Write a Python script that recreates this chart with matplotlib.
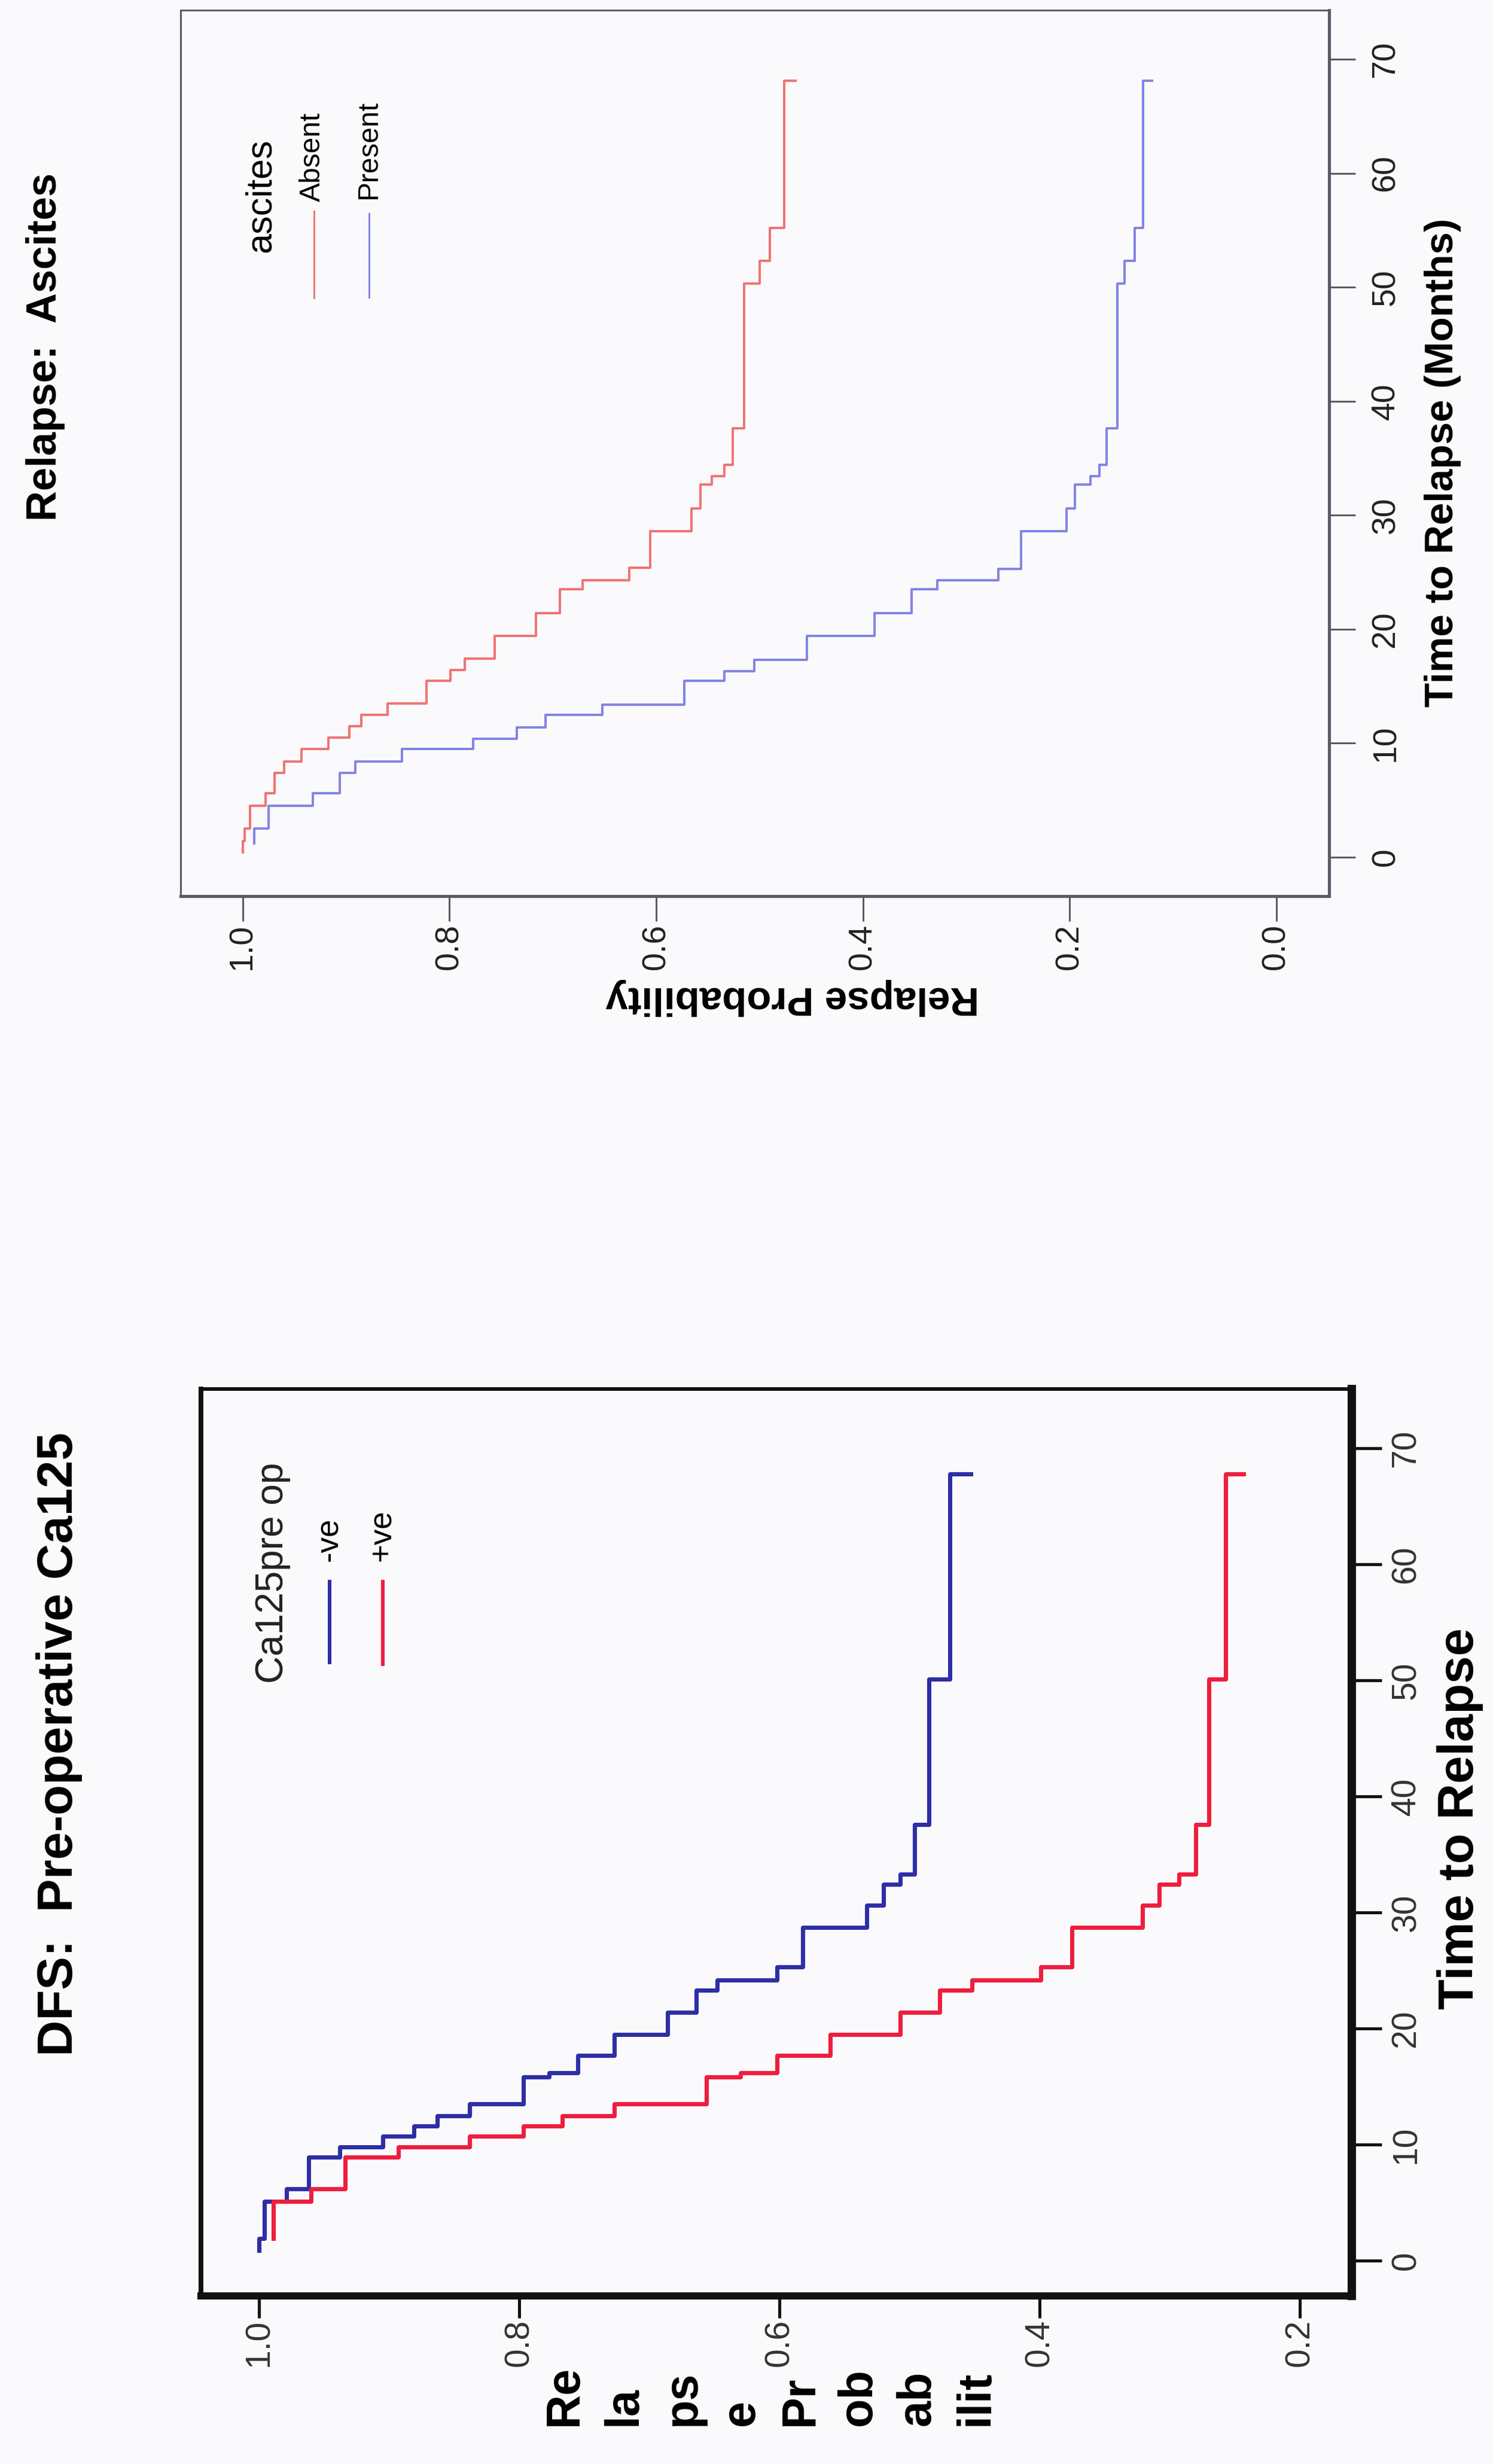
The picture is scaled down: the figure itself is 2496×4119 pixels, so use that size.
import matplotlib
matplotlib.use('Agg')
import matplotlib.pyplot as plt
from matplotlib import font_manager
from matplotlib.lines import Line2D

# top panel: Relapse by ascites (time in months, probability)
absent_time = [0.4, 1.4, 2.5, 4.5, 5.6, 7.4, 8.4, 9.5, 10.5, 11.5, 12.5, 13.5, 15.5, 16.4,
               17.4, 19.4, 21.4, 23.5, 24.3, 25.4, 28.6, 30.6, 32.7, 33.4, 34.4, 37.6,
               50.3, 52.3, 55.2, 68.1]
absent_surv = [1.0, 0.998, 0.993, 0.978, 0.969, 0.960, 0.943, 0.917, 0.897, 0.885, 0.860,
               0.822, 0.799, 0.785, 0.756, 0.716, 0.693, 0.671, 0.626, 0.606, 0.566, 0.557,
               0.546, 0.534, 0.526, 0.515, 0.500, 0.490, 0.476, 0.465]
present_time = [1.2, 2.5, 4.5, 5.6, 7.4, 8.4, 9.5, 10.4, 11.4, 12.5, 13.4, 15.5, 16.3, 17.3,
                19.4, 21.4, 23.5, 24.3, 25.3, 28.6, 30.6, 32.7, 33.4, 34.4, 37.6, 50.3,
                52.3, 55.2, 68.1]
present_surv = [0.989, 0.975, 0.932, 0.906, 0.891, 0.846, 0.777, 0.735, 0.707, 0.652, 0.573,
                0.534, 0.505, 0.454, 0.389, 0.353, 0.328, 0.269, 0.247, 0.203, 0.195, 0.180,
                0.171, 0.164, 0.154, 0.147, 0.137, 0.129, 0.120]

# bottom panel: DFS by pre-operative Ca125
neg_time = [0.9, 1.9, 5.1, 6.2, 8.9, 9.8, 10.7, 11.6, 12.5, 13.5, 15.8, 16.2, 17.7, 19.5,
            21.4, 23.3, 24.2, 25.3, 28.7, 30.6, 32.4, 33.3, 37.6, 50.1, 67.8]
neg_surv = [1.0, 0.996, 0.979, 0.962, 0.938, 0.905, 0.881, 0.863, 0.838, 0.797, 0.777,
            0.755, 0.727, 0.686, 0.664, 0.648, 0.602, 0.582, 0.533, 0.520, 0.507, 0.496,
            0.485, 0.469, 0.453]
pos_time = [1.9, 5.1, 6.2, 8.9, 9.8, 10.7, 11.6, 12.5, 13.5, 15.8, 16.2, 17.7, 19.5, 21.4,
            23.3, 24.2, 25.3, 28.7, 30.6, 32.4, 33.3, 37.6, 50.1, 67.8]
pos_surv = [0.989, 0.960, 0.934, 0.893, 0.838, 0.797, 0.767, 0.727, 0.656, 0.630, 0.602,
            0.561, 0.507, 0.477, 0.452, 0.399, 0.375, 0.321, 0.308, 0.293, 0.280, 0.270,
            0.257, 0.243]

prob_ticks_top = [1.0, 0.8, 0.6, 0.4, 0.2, 0.0]
prob_ticks_bot = [1.0, 0.8, 0.6, 0.4, 0.2]
time_ticks = [0, 10, 20, 30, 40, 50, 60, 70]

plt.rcParams['font.family'] = 'Liberation Sans'

# narrow font for the top panel labels, if it is there
try:
    font_manager.findfont('Liberation Sans Narrow', fallback_to_default=False)
    narrow = 'Liberation Sans Narrow'
    nscale = 1.0
except Exception:
    narrow = 'Liberation Sans'
    nscale = 0.82

W, H = 2496, 4119
bg = '#fafafc'
fig = plt.figure(figsize=(W / 100, H / 100), dpi=100, facecolor=bg)


def fx(x):
    return x / W


def fy(y):
    return 1 - y / H


def pt(p):  # pixels -> points
    return p * 72 / 100


# ---------------- top panel ----------------
ax1 = fig.add_axes([fx(302), fy(1498), (2222 - 302) / W, (1498 - 17) / H])
ax1.set_facecolor('none')
ax1.plot(absent_surv, absent_time, drawstyle='steps-pre', color='#f07474', lw=pt(4))
ax1.plot(present_surv, present_time, drawstyle='steps-pre', color='#8484e4', lw=pt(4))
ax1.set_xlim(1.060, -0.051)
ax1.set_ylim(-3.41, 74.3)
ax1.yaxis.tick_right()
ax1.set_xticks(prob_ticks_top, ['%.1f' % v for v in prob_ticks_top])
ax1.set_yticks(time_ticks, [str(v) for v in time_ticks])
gray = '#5a5a66'
for side, w in [('left', 3), ('top', 3), ('bottom', 5), ('right', 5)]:
    ax1.spines[side].set_linewidth(pt(w))
    ax1.spines[side].set_color(gray)
ax1.tick_params(axis='x', direction='out', length=pt(42), width=pt(3), color=gray,
                pad=pt(4), labelsize=40, labelrotation=90, labelcolor='#222222')
ax1.tick_params(axis='y', direction='out', length=pt(44), width=pt(3), color=gray,
                pad=pt(25), labelsize=40, labelrotation=90, labelcolor='#222222')
for lbl in ax1.get_yticklabels():
    lbl.set_va('center')

fig.text(fx(76), fy(580), 'Relapse:  Ascites', rotation=90, ha='center', va='center',
         fontsize=62 * nscale, family=narrow, weight='bold')
fig.text(fx(2412), fy(773), 'Time to Relapse (Months)', rotation=90, ha='center',
         va='center', fontsize=59 * nscale, family=narrow, weight='bold')
fig.text(fx(1325), fy(1667), 'Relapse Probability', rotation=180, ha='center',
         va='center', fontsize=59 * nscale, family=narrow, weight='bold')

# legend
fig.text(fx(436), fy(422), 'ascites', rotation=90, ha='center', va='bottom', fontsize=44)
fig.text(fx(522), fy(337), 'Absent', rotation=90, ha='center', va='bottom',
         fontsize=42 * nscale, family=narrow)
fig.text(fx(617), fy(333), 'Present', rotation=90, ha='center', va='bottom',
         fontsize=42 * nscale, family=narrow)
fig.add_artist(Line2D([fx(525), fx(525)], [fy(353), fy(498)], transform=fig.transFigure,
                      color='#f07474', lw=pt(3)))
fig.add_artist(Line2D([fx(617), fx(617)], [fy(357), fy(497)], transform=fig.transFigure,
                      color='#8484e4', lw=pt(3)))

# ---------------- bottom panel ----------------
ax2 = fig.add_axes([fx(336), fy(3838), (2260 - 336) / W, (3838 - 2322) / H])
ax2.set_facecolor('none')
ax2.plot(neg_surv, neg_time, drawstyle='steps-pre', color='#2e2ea6', lw=pt(7))
ax2.plot(pos_surv, pos_time, drawstyle='steps-pre', color='#ee1e3e', lw=pt(7))
ax2.set_xlim(1.0446, 0.160)
ax2.set_ylim(-3.04, 75.1)
ax2.yaxis.tick_right()
ax2.set_xticks(prob_ticks_bot, ['%.1f' % v for v in prob_ticks_bot])
ax2.set_yticks(time_ticks, [str(v) for v in time_ticks])
for side, w in [('left', 8), ('top', 6), ('bottom', 12), ('right', 14)]:
    ax2.spines[side].set_linewidth(pt(w))
    ax2.spines[side].set_color('#111111')
ax2.tick_params(axis='x', direction='out', length=pt(37), width=pt(5), color='#111111',
                pad=pt(2), labelsize=41, labelrotation=90, labelcolor='#333333')
ax2.tick_params(axis='y', direction='out', length=pt(50), width=pt(5), color='#111111',
                pad=pt(14), labelsize=41, labelrotation=90, labelcolor='#333333')
for lbl in ax2.get_yticklabels():
    lbl.set_va('center')

fig.text(fx(99), fy(2916), 'DFS:  Pre-operative Ca125', rotation=90, ha='center',
         va='center', fontsize=60, weight='bold')
fig.text(fx(2441), fy(3040), 'Time to Relapse', rotation=90, ha='center', va='center',
         fontsize=60, weight='bold')
fig.text(fx(907), fy(4055), 'Re\nla\nps\ne\nPr\nob\nab\nilit', rotation=90, ha='left',
         va='bottom', multialignment='left', linespacing=1.4, fontsize=57, weight='bold')

fig.text(fx(456), fy(2814), 'Ca125pre op', rotation=90, ha='center', va='bottom',
         fontsize=46, color='#222222')
fig.text(fx(550), fy(2610), '-ve', rotation=90, ha='center', va='bottom', fontsize=38)
fig.text(fx(638), fy(2610), '+ve', rotation=90, ha='center', va='bottom', fontsize=38)
fig.add_artist(Line2D([fx(551), fx(551)], [fy(2644), fy(2779)], transform=fig.transFigure,
                      color='#2e2ea6', lw=pt(6)))
fig.add_artist(Line2D([fx(640), fx(640)], [fy(2644), fy(2782)], transform=fig.transFigure,
                      color='#ee1e3e', lw=pt(6)))

fig.savefig('out.png', dpi=100, facecolor=fig.get_facecolor())
